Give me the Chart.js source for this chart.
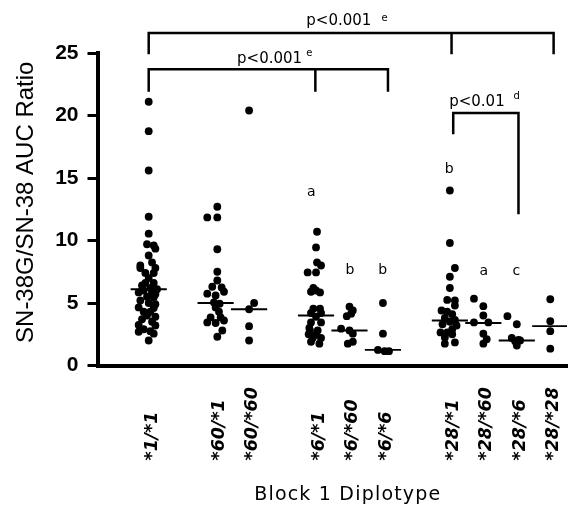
<!DOCTYPE html>
<html>
<head>
    <meta charset="utf-8">
    <title>SN-38G/SN-38 AUC Ratio by Block 1 Diplotype</title>
    <script src="https://cdn.jsdelivr.net/npm/chart.js"></script>
    <style>
        html, body {
            margin: 0;
            padding: 0;
            background: #fff;
        }
        .chart-box {
            width: 571px;
            height: 505px;
            position: relative;
        }
    </style>
</head>
<body>
    <div class="chart-box">
        <canvas id="aucChart"></canvas>
    </div>

    <script>
        // diplotype groups and where each column sits on the x scale
        const diplotypes = ['*1/*1', '*60/*1', '*60/*60', '*6/*1', '*6/*60', '*6/*6', '*28/*1', '*28/*60', '*28/*6', '*28/*28'];
        const columnPos = [0, 2, 3, 5, 6, 7, 9, 10, 11, 12];
        const yTicks = [0, 5, 10, 15, 20, 25];

        // individual AUC ratios per group, with the sideways spread of each dot
        const ratio_1_1 = [21.1, 18.75, 15.6, 11.9, 10.55, 9.7, 9.6, 9.35, 8.8, 8.25, 8.0, 7.8, 7.8, 7.4, 7.4, 7.0, 6.6, 6.6, 6.4, 6.2, 6.1, 6.0, 5.85, 5.85, 5.7, 5.5, 5.45, 5.2, 5.0, 4.9, 4.65, 4.6, 4.3, 4.3, 4.0, 3.9, 3.7, 3.5, 3.25, 3.2, 2.9, 2.75, 2.7, 2.55, 2.0];
        const spread_1_1 = [0, 0, 0, 0, 0, -0.05, 0.15, 0.2, 0, 0.1, -0.25, 0.2, -0.25, -0.1, 0.15, 0, -0.1, 0.15, -0.2, 0.05, 0.25, -0.15, 0.1, -0.3, 0.2, -0.05, 0.15, -0.25, 0, 0.2, -0.3, 0.15, -0.15, 0.05, -0.05, 0.2, -0.2, 0.1, -0.3, 0.2, -0.15, 0.05, -0.3, 0.15, 0];
        const ratio_60_1 = [12.7, 11.85, 11.85, 9.3, 7.5, 6.8, 6.3, 6.25, 5.9, 5.75, 5.6, 5.05, 4.95, 4.65, 4.3, 3.85, 3.85, 3.6, 3.45, 3.4, 2.8, 2.3];
        const spread_60_1 = [0.05, -0.25, 0.05, 0.05, 0.05, 0.05, -0.1, 0.18, 0.25, -0.25, 0, -0.05, 0.12, 0, 0.1, -0.15, 0.15, 0.25, -0.25, 0, 0.2, 0.05];
        const ratio_60_60 = [20.4, 5.0, 4.5, 3.15, 2.0];
        const spread_60_60 = [0, 0.15, 0, 0, 0];
        const ratio_6_1 = [10.7, 9.45, 8.25, 8.0, 7.45, 7.45, 6.2, 6.0, 5.85, 5.9, 4.55, 4.55, 4.2, 4.2, 3.9, 3.45, 3.45, 3.0, 2.8, 2.8, 2.5, 2.45, 2.2, 2.2, 1.75, 1.9];
        const spread_6_1 = [0.03, 0, 0.03, 0.15, -0.25, 0, -0.08, 0, 0.12, -0.15, -0.08, 0.12, -0.15, 0.15, 0, -0.15, 0.15, -0.2, -0.18, 0.05, -0.22, 0, -0.1, 0.15, 0.1, -0.15];
        const ratio_6_60 = [4.7, 4.4, 4.15, 3.95, 2.95, 2.8, 2.55, 1.9, 1.75];
        const spread_6_60 = [0, 0.1, 0.05, -0.08, -0.25, 0, 0.1, 0.1, -0.05];
        const ratio_6_6 = [5.0, 2.55, 1.25, 1.15, 1.15];
        const spread_6_6 = [0, 0, -0.15, 0.05, 0.18];
        const ratio_28_1 = [14.0, 9.8, 7.8, 7.1, 6.2, 5.25, 5.2, 4.8, 4.4, 4.3, 4.1, 3.8, 3.65, 3.5, 3.3, 3.2, 2.9, 2.65, 2.65, 2.5, 2.25, 1.75, 1.85];
        const spread_28_1 = [0, 0, 0.15, 0, 0, -0.08, 0.15, 0.15, -0.25, -0.08, 0.07, -0.15, 0.15, 0, -0.22, 0.2, 0.07, -0.28, -0.08, 0.07, -0.15, -0.15, 0.15];
        const ratio_28_60 = [5.35, 4.75, 4.0, 3.45, 3.45, 2.55, 2.1, 1.75];
        const spread_28_60 = [-0.28, 0, 0, -0.28, 0.15, 0, 0.1, 0];
        const ratio_28_6 = [3.95, 3.3, 2.2, 2.05, 2.0, 1.95, 1.6];
        const spread_28_6 = [-0.28, 0, -0.15, 0.05, 0.1, -0.05, 0];
        const ratio_28_28 = [5.3, 3.55, 2.75, 1.35];
        const spread_28_28 = [0, 0, 0, 0];

        const groupRatios = [ratio_1_1, ratio_60_1, ratio_60_60, ratio_6_1, ratio_6_60, ratio_6_6, ratio_28_1, ratio_28_60, ratio_28_6, ratio_28_28];
        const groupSpreads = [spread_1_1, spread_60_1, spread_60_60, spread_6_1, spread_6_60, spread_6_6, spread_28_1, spread_28_60, spread_28_6, spread_28_28];

        // median of each group (short horizontal bar)
        const medians = [6.1, 5.0, 4.5, 4.0, 2.8, 1.25, 3.6, 3.4, 2.0, 3.15];

        // significance brackets: horizontal level, drop ends, and the columns they hang from
        const brackets = [
            { level: 26.6, drops: [[0, 25.0], [9.05, 25.0], [12.1, 25.0]], from: 0, to: 12.1 },
            { level: 23.7, drops: [[0, 22.0], [4.98, 22.0], [7.15, 22.0]], from: 0, to: 7.15 },
            { level: 20.2, drops: [[9.1, 18.6], [11.05, 12.2]], from: 9.1, to: 11.05 }
        ];
        const pLabels = [
            { text: 'p<0.001', sup: 'e', x: 4.71, y: 27.24, supX: 6.96, supY: 27.75 },
            { text: 'p<0.001', sup: 'e', x: 2.64, y: 24.2, supX: 4.71, supY: 24.95 },
            { text: 'p<0.01', sup: 'd', x: 8.98, y: 20.76, supX: 10.9, supY: 21.56 }
        ];
        // group comparison letters above the columns
        const letters = [
            { text: 'a', x: 4.86, y: 13.6 },
            { text: 'b', x: 6.01, y: 7.32 },
            { text: 'b', x: 6.99, y: 7.32 },
            { text: 'b', x: 8.98, y: 15.4 },
            { text: 'a', x: 10.01, y: 7.24 },
            { text: 'c', x: 10.99, y: 7.24 }
        ];

        document.addEventListener('DOMContentLoaded', function() {
            // one point per subject
            const points = [];
            groupRatios.forEach((vals, g) => {
                vals.forEach((v, i) => {
                    points.push({ x: columnPos[g] + groupSpreads[g][i], y: v });
                });
            });

            const datasets = [{
                type: 'scatter',
                label: 'AUC ratio',
                data: points,
                backgroundColor: '#000',
                borderColor: '#000',
                pointRadius: 3.9,
                pointBorderWidth: 0,
                order: 2
            }];

            medians.forEach((m, g) => {
                datasets.push({
                    type: 'line',
                    label: 'median ' + diplotypes[g],
                    data: [{ x: columnPos[g] - 0.54, y: m }, { x: columnPos[g] + 0.54, y: m }],
                    borderColor: '#000',
                    borderWidth: 1.8,
                    pointRadius: 0,
                    fill: false,
                    order: 1
                });
            });

            // axis texts, rotated diplotype names, brackets and letters
            const annotate = {
                id: 'annotate',
                afterDraw(chart) {
                    const { ctx, chartArea } = chart;
                    const xs = chart.scales.x;
                    const ys = chart.scales.y;
                    const px = v => xs.getPixelForValue(v);
                    const py = v => ys.getPixelForValue(v);
                    ctx.save();
                    ctx.fillStyle = '#000';
                    ctx.strokeStyle = '#000';

                    // diplotype names, read bottom to top, bottoms aligned
                    ctx.font = 'italic bold 17.5px "DejaVu Sans"';
                    ctx.textAlign = 'left';
                    ctx.textBaseline = 'alphabetic';
                    diplotypes.forEach((d, i) => {
                        ctx.save();
                        ctx.translate(px(columnPos[i]) + 8, chartArea.bottom + 95);
                        ctx.rotate(-Math.PI / 2);
                        ctx.fillText(d, 0, 0);
                        ctx.restore();
                    });

                    // x axis title
                    ctx.font = '19px "DejaVu Sans"';
                    ctx.letterSpacing = '1.2px';
                    ctx.textAlign = 'center';
                    ctx.fillText('Block 1 Diplotype', px(5.95), chartArea.bottom + 134);
                    ctx.letterSpacing = '0px';

                    // y axis title
                    ctx.save();
                    ctx.font = '24px "Liberation Sans", Arial, sans-serif';
                    ctx.translate(33, (chartArea.top + chartArea.bottom) / 2 - 7);
                    ctx.rotate(-Math.PI / 2);
                    ctx.textAlign = 'center';
                    ctx.fillText('SN-38G/SN-38 AUC Ratio', 0, 0);
                    ctx.restore();

                    // brackets
                    ctx.lineWidth = 2.5;
                    ctx.lineCap = 'square';
                    brackets.forEach(b => {
                        ctx.beginPath();
                        ctx.moveTo(px(b.from), py(b.level));
                        ctx.lineTo(px(b.to), py(b.level));
                        b.drops.forEach(([dx, dy]) => {
                            ctx.moveTo(px(dx), py(b.level));
                            ctx.lineTo(px(dx), py(dy));
                        });
                        ctx.stroke();
                    });

                    // p values with footnote marks
                    ctx.textAlign = 'left';
                    pLabels.forEach(p => {
                        ctx.font = '15px "DejaVu Sans"';
                        ctx.textBaseline = 'alphabetic';
                        ctx.fillText(p.text, px(p.x), py(p.y));
                        ctx.font = '10px "DejaVu Sans"';
                        ctx.textBaseline = 'middle';
                        ctx.fillText(p.sup, px(p.supX), py(p.supY));
                    });

                    // letters
                    ctx.font = '14px "DejaVu Sans"';
                    ctx.textAlign = 'center';
                    ctx.textBaseline = 'alphabetic';
                    letters.forEach(l => {
                        ctx.fillText(l.text, px(l.x), py(l.y));
                    });

                    ctx.restore();
                }
            };

            const ctx = document.getElementById('aucChart').getContext('2d');
            new Chart(ctx, {
                type: 'scatter',
                data: { datasets: datasets },
                plugins: [annotate],
                options: {
                    responsive: true,
                    maintainAspectRatio: false,
                    animation: false,
                    layout: {
                        padding: { top: 53, left: 0, right: 0, bottom: 0 }
                    },
                    plugins: {
                        legend: { display: false },
                        tooltip: { enabled: false }
                    },
                    scales: {
                        x: {
                            type: 'linear',
                            min: -1.53,
                            max: 12.5,
                            ticks: { display: false },
                            grid: { display: true, drawOnChartArea: false, drawTicks: false },
                            border: { display: true, width: 4, color: '#000' },
                            afterFit(scale) { scale.height = 139.5; }
                        },
                        y: {
                            min: 0,
                            max: 25,
                            afterBuildTicks(scale) {
                                scale.ticks = yTicks.map(v => ({ value: v }));
                            },
                            ticks: {
                                color: '#000',
                                padding: 9,
                                font: { family: '"Liberation Sans", Arial, sans-serif', size: 21, weight: 'bold' }
                            },
                            grid: {
                                display: true,
                                drawOnChartArea: false,
                                drawTicks: true,
                                tickLength: 10,
                                tickWidth: 3,
                                tickColor: '#000'
                            },
                            border: { display: true, width: 4, color: '#000' },
                            afterFit(scale) { scale.width = 97.5; }
                        }
                    }
                }
            });
        });
    </script>
</body>
</html>
